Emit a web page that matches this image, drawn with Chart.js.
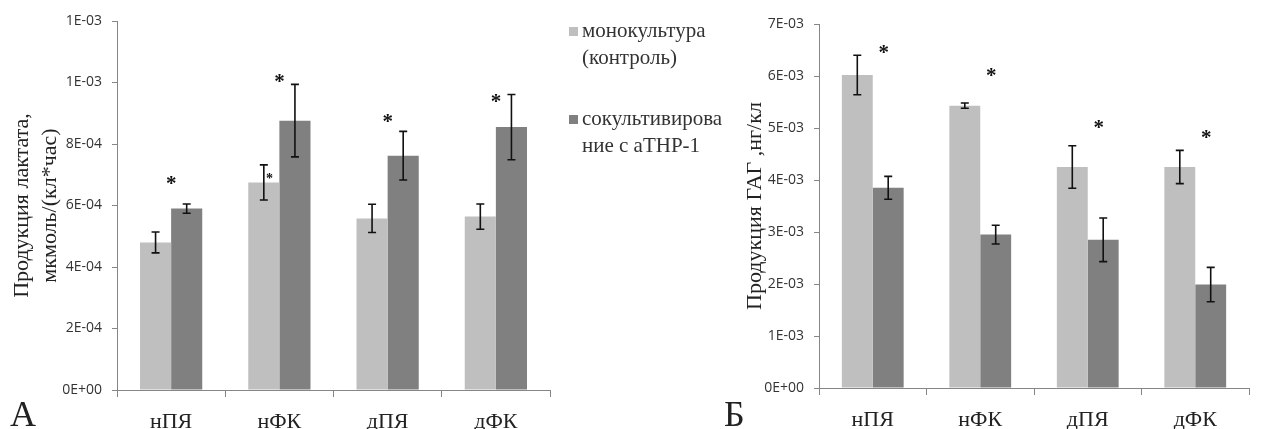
<!DOCTYPE html>
<html>
<head>
<meta charset="utf-8">
<script src="https://cdn.jsdelivr.net/npm/chart.js@4.4.0/dist/chart.umd.min.js"></script>
<style>
  body { margin: 0; background: #fff; }
  #wrap { position: relative; width: 1261px; height: 429px; overflow: hidden; background: #fff; }
  canvas { position: absolute; top: 0; }
  .letter { position: absolute; font-family: 'Liberation Serif', serif; font-size: 36px; line-height: 36px; color: #222; }
  .legend { position: absolute; left: 569px; top: 17px; font-family: 'Liberation Serif', serif; font-size: 21px; line-height: 27px; color: #333; }
  .legend .item { position: relative; padding-left: 13px; margin-bottom: 34px; }
  .legend .sw { position: absolute; left: 0; top: 10px; width: 9px; height: 9px; }
</style>
</head>
<body>
<div id="wrap">
  <canvas id="lactate" width="560" height="429" style="left:0"></canvas>
  <canvas id="gag" width="541" height="429" style="left:720px"></canvas>
  <div class="letter" style="left:10px;top:396px">А</div>
  <div class="letter" style="left:724px;top:396px">Б</div>
  <div class="legend">
    <div class="item"><span class="sw" style="background:#bfbfbf"></span>монокультура<br>(контроль)</div>
    <div class="item"><span class="sw" style="background:#808080"></span>сокультивирова<br>ние с аТНР-1</div>
  </div>
</div>
<script>
const categories = ['нПЯ', 'нФК', 'дПЯ', 'дФК'];
const seriesNames = ['монокультура (контроль)', 'сокультивирование с аТНР-1'];

// А: продукция лактата
const lactateMono = [0.480e-3, 0.675e-3, 0.558e-3, 0.564e-3];
const lactateMonoErr = [0.034e-3, 0.057e-3, 0.046e-3, 0.041e-3];
const lactateCo = [0.590e-3, 0.876e-3, 0.762e-3, 0.855e-3];
const lactateCoErr = [0.015e-3, 0.118e-3, 0.079e-3, 0.106e-3];
const lactateStars = [0.686e-3, 1.018e-3, 0.888e-3, 0.953e-3];
const lactateTicks = ['0E+00', '2E-04', '4E-04', '6E-04', '8E-04', '1E-03', '1E-03'];

// Б: продукция ГАГ
const gagMono = [6.02e-3, 5.43e-3, 4.25e-3, 4.25e-3];
const gagMonoErr = [0.38e-3, 0.05e-3, 0.41e-3, 0.32e-3];
const gagCo = [3.85e-3, 2.95e-3, 2.85e-3, 1.99e-3];
const gagCoErr = [0.22e-3, 0.18e-3, 0.42e-3, 0.33e-3];
const gagStars = [6.54e-3, 6.10e-3, 5.10e-3, 4.90e-3];
const gagTicks = ['0E+00', '1E-03', '2E-03', '3E-03', '4E-03', '5E-03', '6E-03', '7E-03'];

const colors = { mono: '#bfbfbf', co: '#808080', axis: '#868686', tick: '#333', text: '#222' };

// error bars + asterisks
const marks = {
  id: 'marks',
  afterDatasetsDraw(chart, args, opts) {
    const { ctx, scales: { x, y } } = chart;
    ctx.save();
    ctx.strokeStyle = '#111';
    ctx.lineWidth = 1.6;
    chart.data.datasets.forEach((ds, di) => {
      chart.getDatasetMeta(di).data.forEach((bar, i) => {
        const v = ds.data[i], e = ds.errors[i];
        const top = y.getPixelForValue(v + e), bot = y.getPixelForValue(v - e);
        ctx.beginPath();
        ctx.moveTo(bar.x, top); ctx.lineTo(bar.x, bot);
        ctx.moveTo(bar.x - 4, top); ctx.lineTo(bar.x + 4, top);
        ctx.moveTo(bar.x - 4, bot); ctx.lineTo(bar.x + 4, bot);
        ctx.stroke();
      });
    });
    ctx.fillStyle = '#111';
    ctx.textAlign = 'center';
    ctx.textBaseline = 'alphabetic';
    ctx.font = 'bold 21px "Liberation Serif"';
    opts.stars.forEach((v, i) => {
      ctx.fillText('*', x.getPixelForValue(i) + opts.shift, y.getPixelForValue(v) + 11);
    });
    (opts.small || []).forEach(s => {
      ctx.font = 'bold 14px "Liberation Serif"';
      ctx.fillText('*', x.getPixelForValue(s.index) + opts.smallShift, y.getPixelForValue(s.value) + 8);
    });
    ctx.restore();
  }
};

function makeChart(id, mono, monoErr, co, coErr, yMax, yStep, tickLabels, title, titlePad, axisWidth, axisHeight, pad, plug) {
  return new Chart(document.getElementById(id), {
    type: 'bar',
    data: {
      labels: categories,
      datasets: [
        { label: seriesNames[0], data: mono, errors: monoErr, backgroundColor: colors.mono },
        { label: seriesNames[1], data: co, errors: coErr, backgroundColor: colors.co }
      ]
    },
    options: {
      responsive: false,
      animation: false,
      layout: { padding: pad },
      datasets: { bar: { barPercentage: 1, categoryPercentage: 0.575 } },
      plugins: { legend: { display: false }, tooltip: { enabled: false }, marks: plug },
      scales: {
        x: {
          grid: { drawOnChartArea: false, tickLength: 7, color: colors.axis },
          border: { color: colors.axis },
          ticks: { font: { family: 'Liberation Serif', size: 22 }, color: colors.text, padding: 12 },
          afterFit: s => { s.height = axisHeight; }
        },
        y: {
          min: 0,
          max: yMax,
          ticks: {
            stepSize: yStep,
            callback: (v, i) => tickLabels[i],
            font: { family: 'Open Sans', size: 14 },
            color: colors.tick,
            padding: 10
          },
          grid: { drawOnChartArea: false, tickLength: 5, color: colors.axis },
          border: { color: colors.axis },
          title: {
            display: true,
            text: title,
            color: colors.text,
            font: { family: 'Liberation Serif', size: 22, lineHeight: 1.27 },
            padding: { top: titlePad, bottom: 0 }
          },
          afterFit: s => { s.width = axisWidth; }
        }
      }
    },
    plugins: [marks]
  });
}

makeChart('lactate', lactateMono, lactateMonoErr, lactateCo, lactateCoErr, 0.0012, 0.0002, lactateTicks,
  ['Продукция лактата,', 'мкмоль/(кл*час)'], 8, 117, 39, { top: 21, right: 10, left: 0, bottom: 0 },
  { stars: lactateStars, shift: 0, small: [{ index: 1, value: 0.70e-3 }], smallShift: -10 });

makeChart('gag', gagMono, gagMonoErr, gagCo, gagCoErr, 0.007, 0.001, gagTicks,
  'Продукция ГАГ ,нг/кл', 21, 99, 41, { top: 24, right: 12, left: 0, bottom: 0 },
  { stars: gagStars, shift: 11 });
</script>
</body>
</html>
